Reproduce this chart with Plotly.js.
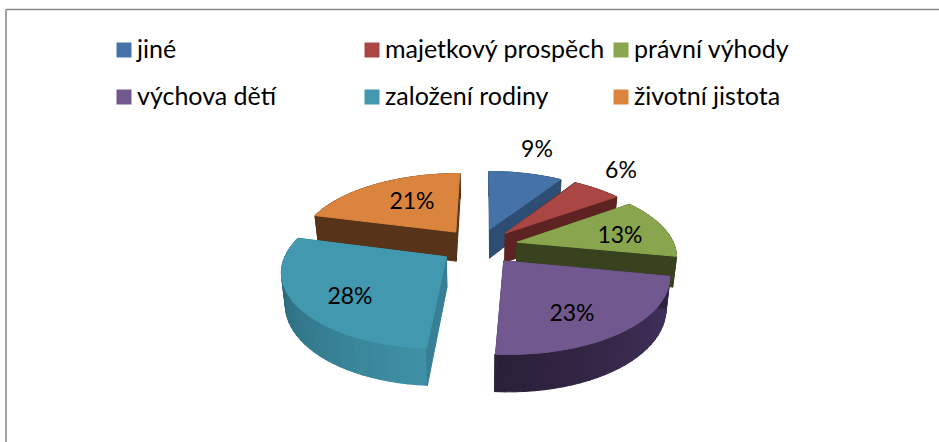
<!DOCTYPE html>
<html><head><meta charset="utf-8">
<script src="https://cdn.plot.ly/plotly-3.0.1.min.js"></script>
<style>html,body{margin:0;padding:0;background:#fff}#c{width:939px;height:442px}</style>
</head><body><div id="c"></div>
<script>
const categories = ["jiné","majetkový prospěch","právní výhody","výchova dětí","založení rodiny","životní jistota"];
const values = [9,6,13,23,28,21];
const topColors = ["#4572A7","#AA4643","#89A54E","#71588F","#4198AF","#DB843D"];
const radialColors = ["#2E4D73","#5C2322","#39421E","#2D2240","#377F94","#57331A"];
const wallStart = ["#2E4D73","#5C2322","#4F5F2A","#453260","#3F90A6","#57331A"];
const wallEnd = ["#2E4D73","#5C2322","#39421E","#2A2038","#265F70","#57331A"];
const labelXY = [[537,151],[621,172],[620,237],[572,315],[350,298],[412,203]];
const legendXY = [[124,50],[372,50],[621,50],[124,97],[372,97],[621,97]];
const drawOrder = [0,1,5,2,4,3];

const cx=479, cy=246, A=157.5, B=72.5, P=0.166, PULL=0.25, DEPTH=30, SHRINK=0.98, ROT=0.005;
function proj(X,Y,low){
  const s=1/(1+P*Y);
  let x=A*X*s, y=-B*Y*s;
  if(low){x*=SHRINK; y+=DEPTH*s;}
  return [cx+x, cy+y];
}
function hex(c){return [1,3,5].map(i=>parseInt(c.substr(i,2),16));}
function mix(a,b,t){const p=hex(a),q=hex(b);return 'rgb('+p.map((v,i)=>Math.round(v+(q[i]-v)*t)).join(',')+')';}
const total=values.reduce((a,b)=>a+b,0);
const starts=[]; let acc=0;
values.forEach(v=>{starts.push(acc/total*2*Math.PI+ROT); acc+=v;});
const traces=[];
function poly(pts,color){
  traces.push({type:'scatter',mode:'lines',x:pts.map(p=>p[0]),y:pts.map(p=>p[1]),fill:'toself',fillcolor:color,
    line:{color:color,width:1},hoverinfo:'skip',showlegend:false});
}
drawOrder.forEach(i=>{
  const a0=starts[i], a1=a0+values[i]/total*2*Math.PI, mid=(a0+a1)/2;
  const ox=PULL*Math.sin(mid), oy=PULL*Math.cos(mid);
  const pt=(t,low)=>proj(ox+Math.sin(t),oy+Math.cos(t),low);
  const tip=low=>proj(ox,oy,low);
  const n=Math.max(8,Math.round(values[i]*1.2));
  for(let k=0;k<n;k++){
    const t0=a0+(a1-a0)*k/n,t1=a0+(a1-a0)*(k+1)/n+0.004;
    poly([pt(t0,false),pt(t1,false),pt(t1,true),pt(t0,true),pt(t0,false)],mix(wallStart[i],wallEnd[i],k/(n-1)));
  }
  poly([tip(false),pt(a0,false),pt(a0,true),tip(true),tip(false)],radialColors[i]);
  poly([tip(false),pt(a1,false),pt(a1,true),tip(true),tip(false)],radialColors[i]);
  const top=[tip(false)];
  for(let k=0;k<=48;k++) top.push(pt(a0+(a1-a0)*k/48,false));
  top.push(tip(false));
  poly(top,topColors[i]);
});
traces.push({type:'scatter',mode:'markers',x:legendXY.map(p=>p[0]),y:legendXY.map(p=>p[1]),
  marker:{symbol:'square',size:15,color:topColors,line:{width:0}},hoverinfo:'skip',showlegend:false});
traces.push({type:'scatter',mode:'text',x:legendXY.map(p=>p[0]+13),y:legendXY.map(p=>p[1]+2),text:categories,textposition:'middle right',
  textfont:{family:'Lato, sans-serif',size:25,color:'#000'},hoverinfo:'skip',showlegend:false});
traces.push({type:'scatter',mode:'text',x:labelXY.map(p=>p[0]),y:labelXY.map(p=>p[1]),text:values.map(v=>v+'%'),textposition:'middle center',
  textfont:{family:'Lato, sans-serif',size:23,color:'#000'},hoverinfo:'skip',showlegend:false});
const layout={width:939,height:442,margin:{l:0,r:0,t:0,b:0},paper_bgcolor:'#fff',plot_bgcolor:'#fff',showlegend:false,
  xaxis:{range:[0,939],visible:false,fixedrange:true},yaxis:{range:[442,0],visible:false,fixedrange:true},
  shapes:[{type:'line',x0:6,x1:6,y0:9.5,y1:442,line:{color:'#868686',width:1.5}},
          {type:'line',x0:6,x1:939,y0:9.5,y1:9.5,line:{color:'#868686',width:1.5}}]};
Plotly.newPlot('c',traces,layout,{staticPlot:true,displayModeBar:false});
</script></body></html>
